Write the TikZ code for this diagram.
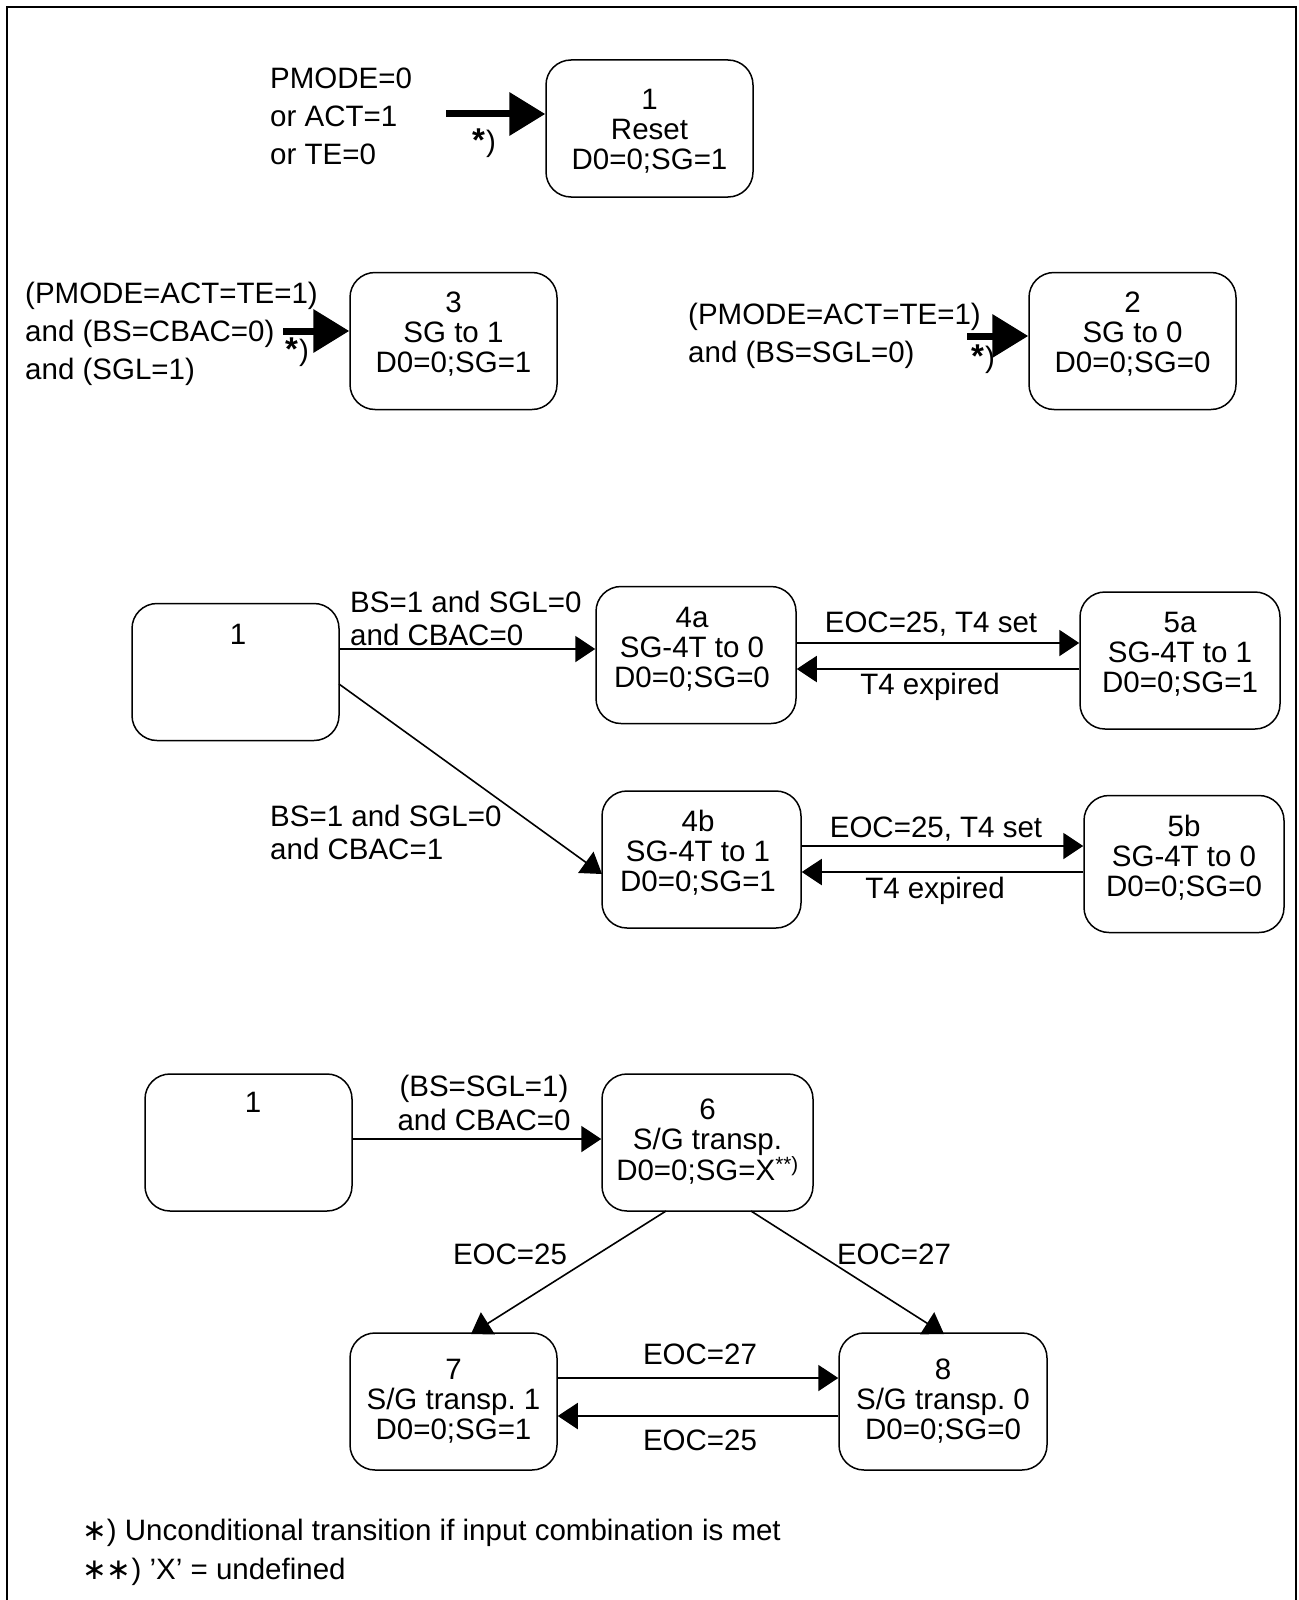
\documentclass[tikz,border=0pt]{standalone}
\usepackage{fontspec}
\setmainfont{Liberation Sans}
\newfontfamily\dejavu{DejaVu Sans}
\usetikzlibrary{arrows.meta,calc}
\newcommand{\fnast}{{\dejavu ∗}}
\newcommand{\uncond}{{\fontsize{33}{33}\selectfont\bfseries *}\kern1pt)}
\begin{document}
\frenchspacing
\begin{tikzpicture}[x=1pt,y=-1pt,
  every node/.style={font=\fontsize{29.5}{30}\selectfont\frenchspacing},
  stbox/.style={draw,line width=1.5pt,rounded corners=25pt,inner sep=0pt,minimum width=207pt,minimum height=137pt},
  intext/.style={align=center,inner sep=0pt},
  cond/.style={align=left,inner sep=0pt,anchor=west,font=\fontsize{29.5}{38}\selectfont},
  condb/.style={align=left,inner sep=0pt,anchor=west,font=\fontsize{29.5}{33}\selectfont},
  lbl/.style={inner sep=0pt},
  bigarr/.style={line width=7pt,-{Triangle[length=36pt,width=42pt]}},
  thinarr/.style={line width=2pt,-{Triangle[length=20pt,width=26pt]}},
  diagarr/.style={line width=1.6pt,-{Triangle[length=20pt,width=26pt]}}
]
\useasboundingbox (0,0) rectangle (1298,1600);
\draw[line width=2pt] (7,1600) -- (7,7) -- (1296,7) -- (1296,1600);

% ---------- top: reset ----------
\node[stbox] (n1) at (649.5,128.5) {};
\node[intext] (t1) at (649.5,131) {1\\Reset\\D0=0;SG=1};
\node[cond] (c1) at (270,116) {PMODE=0\\or ACT=1\\or TE=0};
\coordinate (s1) at (446,114);
\draw[bigarr] (s1) -- (s1 -| n1.west);
\node[lbl] (k1) at (484,143) {\uncond};

% ---------- state 3 ----------
\node[stbox] (n3) at (453.5,341) {};
\node[intext] (t3) at (453.5,334) {3\\SG to 1\\D0=0;SG=1};
\node[cond] (c3) at (25,334) {(PMODE=ACT=TE=1)\\and (BS=CBAC=0)\\and (SGL=1)};
\coordinate (s3) at (283,331);
\draw[bigarr] (s3) -- (s3 -| n3.west);
\node[lbl] (k3) at (297,352) {\uncond};

% ---------- state 2 ----------
\node[stbox] (n2) at (1132.5,341) {};
\node[intext] (t2) at (1132.5,334) {2\\SG to 0\\D0=0;SG=0};
\node[cond] (c2) at (688,336) {(PMODE=ACT=TE=1)\\and (BS=SGL=0)};
\coordinate (s2) at (967,336);
\draw[bigarr] (s2) -- (s2 -| n2.west);
\node[lbl] (k2) at (983,359) {\uncond};

% ---------- middle section ----------
\node[stbox] (m1) at (235.5,672) {};
\node[intext] (tm1) at (238,634) {1};
\node[stbox,minimum width=200pt] (n4a) at (696,655) {};
\node[intext] (t4a) at (692,649) {4a\\SG-4T to 0\\D0=0;SG=0};
\node[stbox,minimum width=200pt] (n5a) at (1180,660.5) {};
\node[intext] (t5a) at (1180,654) {5a\\SG-4T to 1\\D0=0;SG=1};
\node[stbox,minimum width=199pt] (n4b) at (701.5,859.5) {};
\node[intext] (t4b) at (698,853) {4b\\SG-4T to 1\\D0=0;SG=1};
\node[stbox,minimum width=200pt] (n5b) at (1184,864) {};
\node[intext] (t5b) at (1184,858) {5b\\SG-4T to 0\\D0=0;SG=0};

\coordinate (ym1) at (0,649);
\draw[thinarr] (m1.east |- ym1) -- (n4a.west |- ym1);
\node[condb] (lm1) at (350,618) {BS=1 and SGL=0\\and CBAC=0};

\coordinate (d1) at (339,684);
\coordinate (d1e) at (602,874);
\draw[diagarr] (d1) -- (d1e);
\node[condb] (lm2) at (270,832) {BS=1 and SGL=0\\and CBAC=1};

\coordinate (ya1) at (0,643);
\coordinate (ya2) at (0,669);
\draw[thinarr] (n4a.east |- ya1) -- (n5a.west |- ya1);
\draw[thinarr] (n5a.west |- ya2) -- (n4a.east |- ya2);
\node[lbl] (la1) at (931,624) {EOC=25, T4 set};
\node[lbl] (la2) at (930,687) {T4 expired};

\coordinate (yb1) at (0,846);
\coordinate (yb2) at (0,872);
\draw[thinarr] (n4b.east |- yb1) -- (n5b.west |- yb1);
\draw[thinarr] (n5b.west |- yb2) -- (n4b.east |- yb2);
\node[lbl] (lb1) at (936,829) {EOC=25, T4 set};
\node[lbl] (lb2) at (935,891) {T4 expired};

% ---------- bottom section ----------
\node[stbox] (b1) at (248.5,1142.5) {};
\node[intext] (tb1) at (253,1102) {1};
\node[stbox,minimum width=211pt] (n6) at (707.5,1142.5) {};
\node[intext] (t6) at (707.5,1142) {6\\S/G transp.\\D0=0;SG=X\textsuperscript{**)}};
\node[stbox] (n7) at (453.5,1401.5) {};
\node[intext] (t7) at (453.5,1401) {7\\S/G transp.\ 1\\D0=0;SG=1};
\node[stbox,minimum width=208pt] (n8) at (943,1401.5) {};
\node[intext] (t8) at (943,1401) {8\\S/G transp.\ 0\\D0=0;SG=0};

\coordinate (yc1) at (0,1139);
\draw[thinarr] (b1.east |- yc1) -- (n6.west |- yc1);
\node[intext,font=\fontsize{29.5}{34}\selectfont] (lc1) at (484,1103) {(BS=SGL=1)\\and CBAC=0};

\coordinate (e6l) at (666,1211);
\coordinate (e7t) at (471,1334);
\coordinate (e6r) at (751,1211);
\coordinate (e8t) at (944,1334);
\draw[diagarr] (e6l) -- (e7t);
\draw[diagarr] (e6r) -- (e8t);
\node[lbl] (lc2) at (510,1254) {EOC=25};
\node[lbl] (lc3) at (894,1254) {EOC=27};

\coordinate (yd1) at (0,1378);
\coordinate (yd2) at (0,1416);
\draw[thinarr] (n7.east |- yd1) -- (n8.west |- yd1);
\draw[thinarr] (n8.west |- yd2) -- (n7.east |- yd2);
\node[lbl] (ld1) at (700,1354) {EOC=27};
\node[lbl] (ld2) at (700,1440) {EOC=25};

% ---------- footnotes ----------
\node[lbl,anchor=west] (f1) at (82,1533) {\fnast) Unconditional transition if input combination is met};
\node[lbl,anchor=west] (f2) at (82,1572) {\fnast\fnast) ’X’ = undefined};
\end{tikzpicture}
\end{document}
